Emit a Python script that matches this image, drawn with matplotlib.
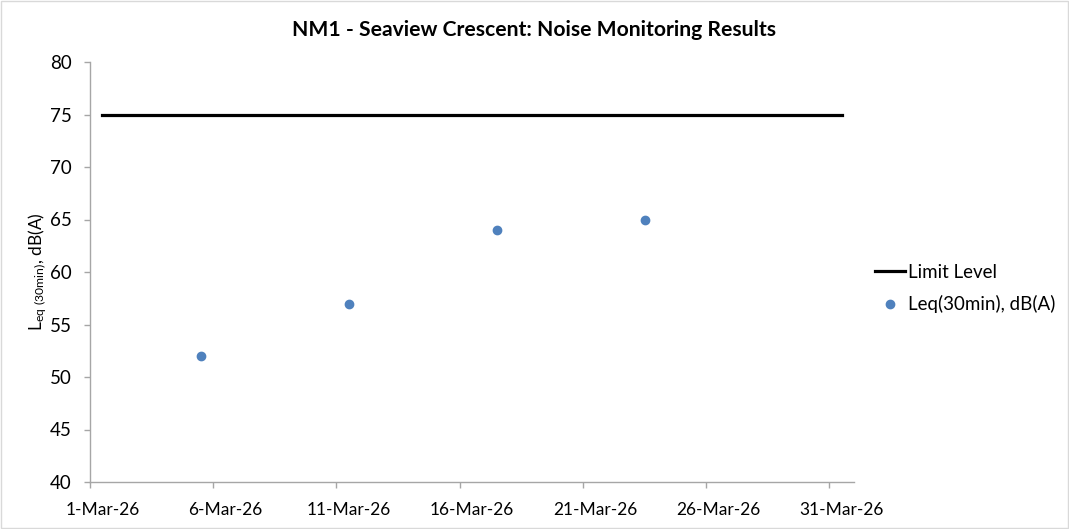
import datetime as dt
import matplotlib
matplotlib.use("Agg")
import matplotlib.pyplot as plt
import matplotlib.dates as mdates
from matplotlib.patches import Rectangle

# Chart data.
limit_dates = ["2026-03-01", "2026-03-31"]
limit_values = [75, 75]
leq_dates = ["2026-03-05", "2026-03-11", "2026-03-17", "2026-03-23"]
leq_values = [52, 57, 64, 65]
tick_dates = ["2026-03-01", "2026-03-06", "2026-03-11", "2026-03-16",
              "2026-03-21", "2026-03-26", "2026-03-31"]
x_start = "2026-03-01"
x_end = "2026-04-01"

plt.rcParams['font.family'] = ['Lato', 'DejaVu Sans']
plt.rcParams['mathtext.default'] = 'regular'

def to_num(d_list, shift=0.0):
    # Excel puts date points in the middle of the day
    return [mdates.date2num(dt.datetime.strptime(d, "%Y-%m-%d")) + shift for d in d_list]

fig = plt.figure(figsize=(10.69, 5.29), dpi=100)
ax = fig.add_axes([90 / 1069, 1 - 482 / 529, (854 - 90) / 1069, (482 - 62) / 529])

line_limit, = ax.plot(to_num(limit_dates, 0.5), limit_values, color="black", linewidth=2.3,
                      label="Limit Level")
pts, = ax.plot(to_num(leq_dates, 0.5), leq_values, linestyle="none", marker="o",
               markersize=6, color="#4F81BD", label="Leq(30min), dB(A)")

ax.set_xlim(to_num([x_start])[0], to_num([x_end])[0])
ax.set_ylim(40, 80)
ax.set_yticks(range(40, 81, 5))

# major ticks carry the tick marks, minor ticks (mid-day) carry the labels
ax.set_xticks(to_num(tick_dates))
ax.set_xticklabels([])
ax.set_xticks(to_num(tick_dates, 0.5), minor=True)
labels = []
for d in tick_dates:
    dd = dt.datetime.strptime(d, "%Y-%m-%d")
    labels.append(str(dd.day) + "-" + dd.strftime("%b-%y"))
ax.set_xticklabels(labels, minor=True)

axis_col = "#A6A6A6"
for s in ["top", "right"]:
    ax.spines[s].set_visible(False)
for s in ["left", "bottom"]:
    ax.spines[s].set_color(axis_col)
    ax.spines[s].set_linewidth(1.0)
ax.tick_params(axis="both", which="major", colors=axis_col, labelcolor="black",
               length=4.5, width=1, direction="out")
ax.tick_params(axis="y", labelsize=13.5, pad=8.5)
ax.tick_params(axis="x", which="minor", length=0, labelsize=12.5, pad=14.5,
               labelcolor="black")

ax.set_ylabel(r"$L_{eq\ (30min)}$, dB(A)", fontsize=12.5, labelpad=1)

fig.text(0.5, 1 - 30 / 529, "NM1 - Seaview Crescent: Noise Monitoring Results",
         ha="center", va="center", fontsize=15.2, fontweight="bold")

leg = fig.legend(handles=[line_limit, pts], loc="center left",
                 bbox_to_anchor=(874.5 / 1069, 1 - 288.5 / 529), frameon=False,
                 borderpad=0, borderaxespad=0, fontsize=13.5, handlelength=1.65,
                 handletextpad=0.12, labelspacing=0.76)

# light chart-area border
fig.patches.append(Rectangle((0.001, 0.001), 0.998, 0.998, transform=fig.transFigure,
                             fill=False, edgecolor="#D9D9D9", linewidth=1))

fig.savefig("out.png", dpi=100)
